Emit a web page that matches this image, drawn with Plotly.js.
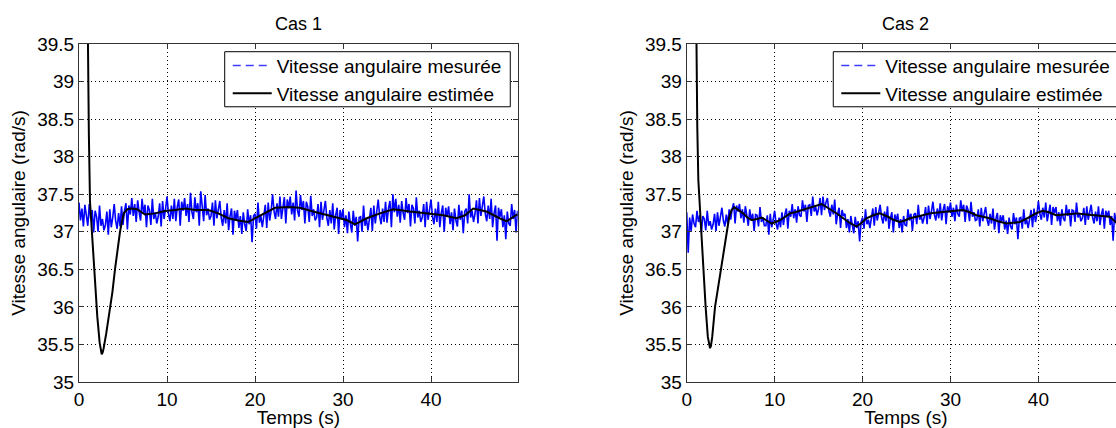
<!DOCTYPE html>
<html>
<head>
<meta charset="utf-8">
<script src="https://cdn.plot.ly/plotly-3.0.1.min.js"></script>
<style>
  html, body { margin: 0; padding: 0; overflow: hidden; background: #fff; }
  #chart { width: 1130px; height: 428px; }
</style>
</head>
<body>
<div id="chart"></div>
<script>
// ---------- data ----------
const titles = ["Cas 1", "Cas 2"];
const seriesNames = ["Vitesse angulaire mesurée", "Vitesse angulaire estimée"];
const xTickVals = [0, 10, 20, 30, 40];
const xTickLabels = ["0", "10", "20", "30", "40"];
const yTickVals = [35, 35.5, 36, 36.5, 37, 37.5, 38, 38.5, 39, 39.5];
const yTickLabels = ["35", "35.5", "36", "36.5", "37", "37.5", "38", "38.5", "39", "39.5"];

// measured angular speed, sampled every 1/6 s (case 1)
const measured1 = [
37.39,37.15,37.31,37.07,37.36,37.20, 37.08,37.37,37.17,37.29,36.99,37.28,
37.20,37.00,37.35,37.08,37.17,37.02, 37.09,37.27,36.96,37.30,37.06,37.19,
37.37,37.14,37.04,37.25,37.07,37.34, 37.09,37.28,37.38,37.03,37.35,37.23,
37.45,37.21,37.37,37.13,37.42,37.26, 37.15,37.44,37.24,37.36,37.06,37.35,
37.29,37.09,37.44,37.17,37.26,37.11, 37.20,37.38,37.07,37.41,37.17,37.30,
37.47,37.24,37.14,37.35,37.17,37.44, 37.14,37.33,37.43,37.08,37.40,37.28,
37.45,37.21,37.37,37.13,37.52,37.26, 37.17,37.46,37.26,37.38,37.08,37.54,
37.34,37.14,37.49,37.22,37.31,37.16, 37.21,37.39,37.08,37.42,37.18,37.31,
37.41,37.18,37.08,37.29,37.11,37.38, 37.02,37.21,37.31,36.96,37.28,37.16,
37.29,37.05,37.21,36.97,37.26,37.10, 37.01,37.30,37.10,37.22,36.86,37.21,
37.24,37.04,37.39,37.12,37.21,37.06, 37.18,37.36,37.05,37.39,37.15,37.28,
37.50,37.27,37.17,37.38,37.20,37.47, 37.17,37.36,37.46,37.11,37.43,37.31,
37.47,37.23,37.39,37.15,37.55,37.28, 37.20,37.49,37.29,37.41,37.11,37.40,
37.33,37.13,37.48,37.21,37.30,37.15, 37.19,37.37,37.06,37.40,37.16,37.29,
37.41,37.18,37.08,37.29,37.11,37.38, 37.03,37.22,37.32,36.97,37.29,37.17,
37.30,37.06,37.22,36.98,37.27,37.11, 36.99,37.28,37.08,37.20,36.87,37.19,
37.20,37.00,37.35,37.08,37.17,37.02, 37.14,37.32,37.01,37.35,37.11,37.24,
37.43,37.20,37.10,37.31,37.13,37.40, 37.12,37.31,37.41,37.06,37.50,37.26,
37.44,37.20,37.36,37.12,37.41,37.25, 37.16,37.45,37.25,37.37,37.07,37.36,
37.31,37.11,37.46,37.19,37.28,37.13, 37.19,37.37,37.06,37.40,37.16,37.29,
37.43,37.20,37.10,37.31,37.13,37.40, 37.06,37.25,37.35,37.00,37.32,37.20,
37.34,37.10,37.26,37.02,37.31,37.15, 37.07,37.36,37.16,37.28,36.98,37.27,
37.31,37.11,37.50,37.19,37.28,37.13, 37.24,37.42,37.11,37.45,37.21,37.34,
37.47,37.24,37.14,37.35,37.17,37.44, 37.06,37.25,37.35,36.88,37.32,37.20,
37.30,37.06,37.22,36.90,37.27,37.11, 37.08,37.37,37.17,37.29,36.99,37.28
];

// measured angular speed, sampled every 1/6 s (case 2)
const measured2 = [
37.26,36.72,37.19,37.01,37.23,37.11, 37.06,37.28,37.13,37.22,36.99,37.21,
37.17,37.02,37.28,37.08,37.14,37.03, 37.10,37.24,37.01,37.26,37.08,37.18,
37.32,37.15,37.07,37.23,37.10,37.30, 37.16,37.30,37.38,37.11,37.35,37.27,
37.37,37.18,37.30,37.12,37.34,37.22, 37.08,37.30,37.15,37.24,37.01,37.23,
37.22,37.07,37.33,37.13,37.19,37.08, 37.08,37.22,36.96,37.24,37.06,37.16,
37.28,37.11,37.03,37.19,37.06,37.26, 37.09,37.23,37.31,37.04,37.28,37.20,
37.37,37.18,37.30,37.12,37.34,37.22, 37.20,37.42,37.27,37.36,37.13,37.35,
37.36,37.21,37.47,37.27,37.33,37.22, 37.31,37.45,37.22,37.47,37.29,37.39,
37.45,37.28,37.20,37.36,37.23,37.43, 37.10,37.24,37.32,37.05,37.29,37.21,
37.24,37.05,37.17,36.99,37.21,37.09, 36.98,37.20,37.05,37.14,36.87,37.13,
37.19,37.04,37.30,37.10,37.16,37.05, 37.17,37.31,37.08,37.33,37.15,37.25,
37.36,37.19,37.11,37.27,37.14,37.34, 37.04,37.18,37.26,36.99,37.23,37.15,
37.24,37.05,37.17,36.99,37.21,37.09, 37.08,37.30,37.15,37.24,37.01,37.23,
37.25,37.10,37.36,37.16,37.22,37.11, 37.19,37.33,37.10,37.35,37.17,37.27,
37.40,37.23,37.15,37.31,37.18,37.38, 37.15,37.29,37.37,37.10,37.34,37.26,
37.39,37.20,37.32,37.14,37.36,37.24, 37.20,37.42,37.27,37.36,37.13,37.35,
37.29,37.14,37.40,37.20,37.26,37.15, 37.16,37.30,37.07,37.32,37.14,37.24,
37.33,37.16,37.08,37.24,37.11,37.31, 37.03,37.17,37.25,36.98,37.22,37.14,
37.22,37.03,37.15,36.97,37.19,37.07, 37.03,37.25,37.10,37.19,36.90,37.18,
37.19,37.04,37.30,37.10,37.16,37.05, 37.15,37.29,37.06,37.31,37.13,37.23,
37.41,37.24,37.16,37.32,37.19,37.39, 37.14,37.28,37.36,37.09,37.33,37.25,
37.33,37.14,37.26,37.08,37.30,37.18, 37.14,37.36,37.21,37.30,37.07,37.29,
37.28,37.13,37.39,37.19,37.25,37.14, 37.18,37.32,37.09,37.34,37.16,37.26,
37.36,37.19,37.11,37.27,37.14,37.34, 37.09,37.23,37.31,37.04,37.28,37.20,
37.28,37.09,37.21,36.88,37.25,37.13, 37.05,37.27,37.12,37.21,36.98,37.20
];
const SAMPLE_STEP = 1 / 6;

// estimated angular speed (case 1)
const estTime1 = [0.85,0.99,1.12,1.25,1.45,1.7,2.08,2.35,2.5,2.58,2.68,2.8,3.1,3.45,3.8,4.09,4.4,4.66,4.9,5.11,5.5,5.9,6.6,7.5,8.64,9.77,10.9,12.05,13.18,14.7,15.83,16.97,18.1,19.2,19.98,21.1,22.27,23.78,25.1,26.6,28.9,30.4,31.36,32.7,34.2,35.7,37.6,39.5,41.4,42.9,43.86,44.8,46.3,47.8,48.6,49.66,49.85];
const estSpeed1 = [41.5,39.5,38.3,37.4,37.0,36.53,35.87,35.52,35.41,35.37,35.39,35.45,35.65,35.9,36.2,36.5,36.78,37.0,37.15,37.25,37.3,37.31,37.3,37.23,37.245,37.276,37.29,37.31,37.29,37.29,37.245,37.18,37.15,37.13,37.18,37.245,37.32,37.33,37.32,37.27,37.2,37.156,37.1,37.18,37.245,37.3,37.27,37.245,37.22,37.18,37.22,37.31,37.27,37.18,37.14,37.22,37.23];

// estimated angular speed (case 2)
const estTime2 = [0.95,1.06,1.2,1.32,1.6,1.89,2.15,2.4,2.55,2.65,2.75,2.9,3.22,3.6,4.09,4.5,4.84,5.1,5.41,5.9,6.43,6.9,7.39,8.0,8.52,9.1,9.66,10.1,10.6,11.2,11.74,12.3,12.88,13.5,14.2,14.8,15.34,15.9,16.48,17.1,17.8,18.5,19.32,19.9,20.45,21.2,21.97,22.9,23.5,24.24,24.8,25.37,26.5,27.64,28.8,29.9,30.7,31.44,32.2,32.95,33.7,34.46,35.4,36.36,37.1,37.87,38.4,39.0,39.8,40.5,41.2,42.0,43.1,44.3,45.5,46.6,47.4,48.1,48.8,49.4,49.85];
const estSpeed2 = [41.5,39.5,38.4,37.69,37.1,36.62,36.0,35.6,35.49,35.45,35.48,35.6,36.0,36.3,36.62,36.95,37.2,37.29,37.325,37.29,37.245,37.19,37.156,37.17,37.19,37.15,37.11,37.13,37.156,37.2,37.245,37.26,37.28,37.3,37.325,37.35,37.37,37.33,37.29,37.24,37.18,37.12,37.07,37.12,37.18,37.22,37.245,37.2,37.16,37.13,37.15,37.18,37.21,37.245,37.26,37.27,37.28,37.29,37.26,37.22,37.2,37.18,37.14,37.11,37.12,37.13,37.16,37.2,37.25,37.28,37.26,37.22,37.23,37.245,37.23,37.22,37.21,37.2,37.13,37.12,37.15];

// ---------- chart ----------
const measTime1 = measured1.map((_, i) => i * SAMPLE_STEP);
const measTime2 = measured2.map((_, i) => i * SAMPLE_STEP);

const FONT = '"Liberation Sans", Arial, Helvetica, sans-serif';
const BLUE = '#0000ff';

function caseTraces(mt, mv, et, ev, ax, ay, lg) {
  return [
    { type: 'scatter', mode: 'lines', x: mt, y: mv, xaxis: ax, yaxis: ay,
      line: { color: BLUE, width: 1.6 }, showlegend: false, hoverinfo: 'skip' },
    { type: 'scatter', mode: 'lines', x: [null], y: [null], xaxis: ax, yaxis: ay,
      name: seriesNames[0], legend: lg, showlegend: true,
      line: { color: '#3d3dff', width: 1.4, dash: '8px,5px' } },
    { type: 'scatter', mode: 'lines', x: et, y: ev, xaxis: ax, yaxis: ay,
      name: seriesNames[1], legend: lg, showlegend: true,
      line: { color: '#000000', width: 2 } }
  ];
}

const data = [
  ...caseTraces(measTime1, measured1, estTime1, estSpeed1, 'x', 'y', 'legend'),
  ...caseTraces(measTime2, measured2, estTime2, estSpeed2, 'x2', 'y2', 'legend2')
];

function xAxis(domain, anchor) {
  return {
    domain: domain, anchor: anchor, range: [0, 49.85],
    tickmode: 'array', tickvals: xTickVals, ticktext: xTickLabels,
    ticks: 'inside', ticklen: 5, tickcolor: '#333', mirror: 'ticks',
    showline: true, linecolor: '#333', linewidth: 1,
    showgrid: true, gridcolor: '#000', gridwidth: 1, griddash: '1px,3px',
    zeroline: false, tickfont: { family: FONT, size: 19, color: '#000' },
    title: { text: 'Temps (s)', font: { family: FONT, size: 19, color: '#000' }, standoff: 2 }
  };
}
function yAxis(anchor) {
  return {
    domain: [0, 1], anchor: anchor, range: [35, 39.5],
    tickmode: 'array', tickvals: yTickVals, ticktext: yTickLabels,
    ticks: 'inside', ticklen: 5, tickcolor: '#333', mirror: 'ticks',
    showline: true, linecolor: '#333', linewidth: 1,
    showgrid: true, gridcolor: '#000', gridwidth: 1, griddash: '1px,3px',
    zeroline: false, tickfont: { family: FONT, size: 19, color: '#000' },
    title: { text: 'Vitesse angulaire (rad/s)', font: { family: FONT, size: 19, color: '#000' }, standoff: 6 }
  };
}

const legendBase = {
  y: 0.992, xanchor: 'left', yanchor: 'top',
  bgcolor: 'rgba(0,0,0,0)', borderwidth: 0,
  font: { family: FONT, size: 19, color: '#000' }, tracegroupgap: 0,
  itemwidth: 39
};

// legend frames (paper coordinates)
function legendFrame(x0) {
  return { type: 'rect', xref: 'paper', yref: 'paper', x0: x0, x1: x0 + 0.273,
    y0: 0.8143, y1: 0.9772, fillcolor: '#ffffff', line: { color: '#000000', width: 1 },
    layer: 'above' };
}

const layout = {
  width: 1130, height: 428,
  margin: { l: 79, r: 5, t: 44, b: 46 },
  paper_bgcolor: '#ffffff', plot_bgcolor: '#ffffff',
  font: { family: FONT, size: 19, color: '#000' },
  showlegend: true,
  xaxis: xAxis([0, 0.4194], 'y'),
  yaxis: yAxis('x'),
  xaxis2: xAxis([0.581, 1], 'y2'),
  yaxis2: yAxis('x2'),
  legend: Object.assign({ x: 0.1422 }, legendBase),
  legend2: Object.assign({ x: 0.7240 }, legendBase),
  shapes: [legendFrame(0.1393), legendFrame(0.7211)],
  annotations: [
    { text: titles[0], xref: 'paper', yref: 'paper', x: 0.2097, y: 1.059,
      xanchor: 'center', yanchor: 'middle', showarrow: false,
      font: { family: FONT, size: 18, color: '#000' } },
    { text: titles[1], xref: 'paper', yref: 'paper', x: 0.7905, y: 1.059,
      xanchor: 'center', yanchor: 'middle', showarrow: false,
      font: { family: FONT, size: 18, color: '#000' } }
  ]
};

Plotly.newPlot('chart', data, layout, { displayModeBar: false, staticPlot: true, responsive: false });
</script>
</body>
</html>
